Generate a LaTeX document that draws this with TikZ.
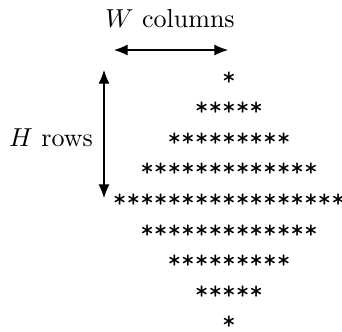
\documentclass[tikz,border=0pt]{standalone}
\usetikzlibrary{arrows.meta}
\begin{document}
\begin{tikzpicture}[x=0.3846pt,y=-0.3846pt,
  row/.style={inner sep=0pt,anchor=base,font=\ttfamily,text depth=0pt},
  lbl/.style={inner sep=0pt,anchor=base},
  dim/.style={line width=0.4pt,{Latex[length=5.2pt,width=4.2pt]}-{Latex[length=5.2pt,width=4.2pt]}}]
\useasboundingbox (0,0) rectangle (342,331);
\node[lbl] (wl) at (170,27) {$W$ columns};
\node[lbl] (hl) at (51,146) {$H$ rows};
\node[row] (r1) at (229,85) {*};
\node[row] (r2) at (229,115.6) {*****};
\node[row] (r3) at (229,146.2) {*********};
\node[row] (r4) at (229,176.8) {*************};
\node[row] (r5) at (229,207.4) {*****************};
\node[row] (r6) at (229,238) {*************};
\node[row] (r7) at (229,268.6) {*********};
\node[row] (r8) at (229,299.2) {*****};
\node[row] (r9) at (229,329.8) {*};
\coordinate (wa) at (114,50);
\coordinate (wb) at (228,50);
\coordinate (ha) at (104,70);
\coordinate (hb) at (104,198);
\draw[dim] (wa) -- (wb);
\draw[dim] (ha) -- (hb);
\end{tikzpicture}
\end{document}
